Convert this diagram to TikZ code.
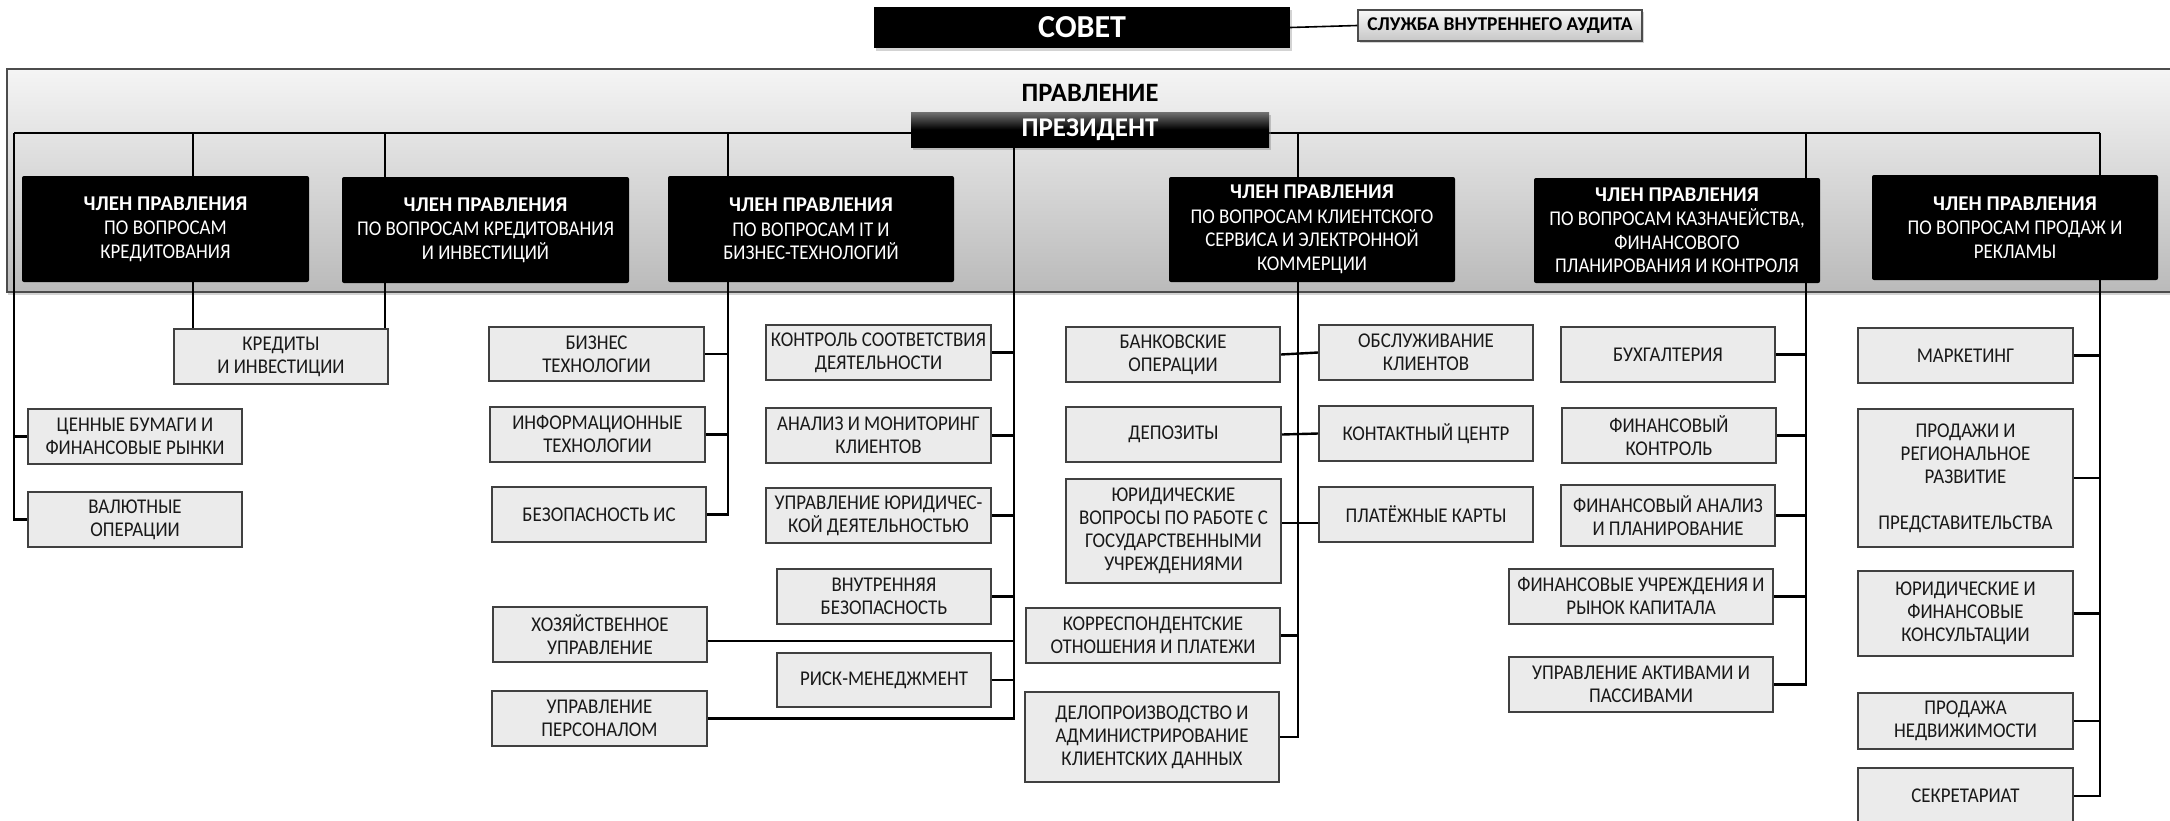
\documentclass[tikz,border=0pt]{standalone}
\usepackage{fontspec}
\setmainfont{Carlito}
\newfontfamily\condf[FakeStretch=0.9]{Carlito}
\usetikzlibrary{shadows,calc}
\tikzset{
  lbox/.style={draw=black!75, line width=2pt, fill=black!8, inner sep=0pt, align=center,
    font=\condf\fontsize{21}{23}\selectfont, text=black!90},
  mbox/.style={fill=black, rounded corners=2pt, inner sep=0pt, align=center, text=white,
    font=\condf\fontsize{21}{23.5}\selectfont},
  conn/.style={line width=2.4pt, black},
  rect/.style n args={4}{minimum width={#3pt-#1pt}, minimum height={#4pt-#2pt}, inner sep=0pt},
}
\newcommand\ub[6]{\node[lbox, rect={#2}{#3}{#4}{#5}] (#1) at ({(#2+#4)/2},{(#3+#5)/2}) {#6};}
\newcommand\mb[6]{\node[mbox, rect={#2}{#3}{#4}{#5}] (#1) at ({(#2+#4)/2},{(#3+#5)/2}) {{\fontspec{Carlito}\bfseries ЧЛЕН ПРАВЛЕНИЯ}\\[1pt]#6};}
\begin{document}
\begin{tikzpicture}[x=1pt,y=-1pt]
\useasboundingbox (0,0) rectangle (2170,820);
% panel
\node[rect={7}{69}{2200}{292}, draw=black!70, line width=1.5pt,
  top color=black!4, bottom color=black!27,
  drop shadow={shadow xshift=1pt, shadow yshift=-3pt, opacity=0.35}] (panel) at (1103.5,180.5) {};
\node[font=\bfseries\fontsize{26.5}{26.5}\selectfont] (pravl) at (1090,93) {ПРАВЛЕНИЕ};
% top
\node[rect={874}{7}{1290}{48}, fill=black, text=white,
  font=\bfseries\fontsize{32}{32}\selectfont,
  drop shadow={shadow xshift=2pt, shadow yshift=-3pt, opacity=0.35}] (sovet) at (1082,27.5) {СОВЕТ};
\node[rect={1358}{10}{1642}{41}, draw=black!70, line width=1.5pt,
  top color=black!3, bottom color=black!22, font=\bfseries\fontsize{19.5}{19.5}\selectfont,
  drop shadow={shadow xshift=2pt, shadow yshift=-2pt, opacity=0.35}] (audit) at (1500,25.5) {СЛУЖБА ВНУТРЕННЕГО АУДИТА};
\draw[line width=1.6pt] (sovet.east) -- (audit.west);
% trunk
\coordinate (tL) at (14,133);
\coordinate (tR) at (2100,133);
\coordinate (d1) at (193,133);
\coordinate (d2) at (385,133);
\coordinate (d3) at (728,133);
\coordinate (d0) at (1014,133);
\coordinate (d4) at (1298,133);
\coordinate (d5) at (1806,133);
\draw[conn] (tL) -- (tR);
% president
\node[rect={911}{112}{1269}{147}, top color=black!55, bottom color=black, middle color=black,
  text=white, font=\bfseries\fontsize{27}{27}\selectfont,
  drop shadow={shadow xshift=2pt, shadow yshift=-3pt, opacity=0.4}] (pres) at (1090,129.5) {ПРЕЗИДЕНТ};
% members
\mb{m1}{22}{176}{309}{282}{ПО ВОПРОСАМ\\КРЕДИТОВАНИЯ}
\mb{m2}{342}{177}{629}{283}{ПО ВОПРОСАМ КРЕДИТОВАНИЯ\\И ИНВЕСТИЦИЙ}
\mb{m3}{668}{176}{954}{282}{ПО ВОПРОСАМ IT И\\БИЗНЕС-ТЕХНОЛОГИЙ}
\mb{m4}{1169}{177}{1455}{282}{ПО ВОПРОСАМ КЛИЕНТСКОГО\\СЕРВИСА И ЭЛЕКТРОННОЙ\\КОММЕРЦИИ}
\mb{m5}{1534}{178}{1820}{283}{ПО ВОПРОСАМ КАЗНАЧЕЙСТВА,\\ФИНАНСОВОГО\\ПЛАНИРОВАНИЯ И КОНТРОЛЯ}
\mb{m6}{1872}{175}{2158}{280}{ПО ВОПРОСАМ ПРОДАЖ И\\РЕКЛАМЫ}
% lower boxes: credit
\ub{kred}{174}{329}{388}{384}{КРЕДИТЫ\\И ИНВЕСТИЦИИ}
\ub{cenn}{28}{409}{242}{464}{ЦЕННЫЕ БУМАГИ И\\ФИНАНСОВЫЕ РЫНКИ}
\ub{valut}{28}{492}{242}{547}{ВАЛЮТНЫЕ\\ОПЕРАЦИИ}
% IT
\ub{biz}{489}{327}{704}{381}{БИЗНЕС\\ТЕХНОЛОГИИ}
\ub{inf}{490}{407}{705}{462}{ИНФОРМАЦИОННЫЕ\\ТЕХНОЛОГИИ}
\ub{bezis}{492}{487}{706}{542}{БЕЗОПАСНОСТЬ ИС}
% president
\ub{kontr}{766}{325}{991}{380}{КОНТРОЛЬ СООТВЕТСТВИЯ\\ДЕЯТЕЛЬНОСТИ}
\ub{anal}{766}{408}{991}{463}{АНАЛИЗ И МОНИТОРИНГ\\КЛИЕНТОВ}
\ub{yur}{766}{488}{991}{543}{УПРАВЛЕНИЕ ЮРИДИЧЕС-\\КОЙ ДЕЯТЕЛЬНОСТЬЮ}
\ub{vnutr}{777}{569}{991}{624}{ВНУТРЕННЯЯ\\БЕЗОПАСНОСТЬ}
\ub{risk}{777}{653}{991}{707}{РИСК-МЕНЕДЖМЕНТ}
\ub{hoz}{493}{607}{707}{662}{ХОЗЯЙСТВЕННОЕ\\УПРАВЛЕНИЕ}
\ub{upers}{492}{691}{707}{746}{УПРАВЛЕНИЕ\\ПЕРСОНАЛОМ}
% client
\ub{bank}{1066}{327}{1280}{382}{БАНКОВСКИЕ\\ОПЕРАЦИИ}
\ub{dep}{1066}{407}{1281}{462}{ДЕПОЗИТЫ}
\ub{yurv}{1066}{479}{1281}{583}{ЮРИДИЧЕСКИЕ\\ВОПРОСЫ ПО РАБОТЕ С\\ГОСУДАРСТВЕННЫМИ\\УЧРЕЖДЕНИЯМИ}
\ub{korr}{1026}{608}{1280}{663}{КОРРЕСПОНДЕНТСКИЕ\\ОТНОШЕНИЯ И ПЛАТЕЖИ}
\ub{delo}{1025}{692}{1279}{782}{ДЕЛОПРОИЗВОДСТВО И\\АДМИНИСТРИРОВАНИЕ\\КЛИЕНТСКИХ ДАННЫХ}
\ub{obsl}{1319}{325}{1533}{380}{ОБСЛУЖИВАНИЕ\\КЛИЕНТОВ}
\ub{kont}{1319}{406}{1533}{461}{КОНТАКТНЫЙ ЦЕНТР}
\ub{plat}{1319}{487}{1533}{542}{ПЛАТЁЖНЫЕ КАРТЫ}
% treasury
\ub{buh}{1561}{327}{1775}{382}{БУХГАЛТЕРИЯ}
\ub{fk}{1562}{408}{1776}{463}{ФИНАНСОВЫЙ\\КОНТРОЛЬ}
\ub{fa}{1561}{485}{1775}{546}{ФИНАНСОВЫЙ АНАЛИЗ\\И ПЛАНИРОВАНИЕ}
\ub{fu}{1509}{569}{1773}{624}{ФИНАНСОВЫЕ УЧРЕЖДЕНИЯ И\\РЫНОК КАПИТАЛА}
\ub{uakt}{1509}{657}{1773}{712}{УПРАВЛЕНИЕ АКТИВАМИ И\\ПАССИВАМИ}
% sales
\ub{mark}{1858}{328}{2073}{383}{МАРКЕТИНГ}
\ub{prod}{1858}{409}{2073}{547}{ПРОДАЖИ И\\РЕГИОНАЛЬНОЕ\\РАЗВИТИЕ\\[23pt]ПРЕДСТАВИТЕЛЬСТВА}
\ub{yurk}{1858}{571}{2073}{656}{ЮРИДИЧЕСКИЕ И\\ФИНАНСОВЫЕ\\КОНСУЛЬТАЦИИ}
\ub{nedv}{1858}{693}{2073}{749}{ПРОДАЖА\\НЕДВИЖИМОСТИ}
\ub{sekr}{1858}{768}{2073}{824}{СЕКРЕТАРИАТ}
% connectors
\draw[conn] (tL) -- (tL |- valut.west) -- (valut.west);
\draw[conn] (cenn.west -| tL) -- (cenn.west);
\draw[conn] (d1) -- (d1 |- m1.north);
\draw[conn] (d1 |- m1.south) -- (d1 |- kred.north);
\draw[conn] (d2) -- (d2 |- m2.north);
\draw[conn] (d2 |- m2.south) -- (d2 |- kred.north);
\draw[conn] (d3) -- (d3 |- m3.north);
\draw[conn] (d3 |- m3.south) -- (d3 |- bezis.east) -- (bezis.east);
\draw[conn] (biz.east) -- (biz.east -| d3);
\draw[conn] (inf.east) -- (inf.east -| d3);
\draw[conn] (pres.south -| d0) -- (d0 |- upers.east) -- (upers.east);
\foreach \n in {kontr,anal,yur,vnutr,risk} \draw[conn] (\n.east) -- (\n.east -| d0);
\coordinate (hy) at (0,641);
\draw[conn] (hoz.east |- hy) -- (d0 |- hy);
\draw[conn] (d4) -- (d4 |- m4.north);
\draw[conn] (d4 |- m4.south) -- (d4 |- delo.east) -- (delo.east);
\draw[conn] (bank.east) -- (obsl.west);
\draw[conn] (dep.east) -- (kont.west);
\coordinate (yc) at ($(yurv.east)!0.5!(plat.west)$);
\draw[conn] (yurv.east |- yc) -- (plat.west |- yc);
\draw[conn] (korr.east) -- (korr.east -| d4);
\draw[conn] (d5) -- (d5 |- m5.north);
\draw[conn] (d5 |- m5.south) -- (d5 |- uakt.east) -- (uakt.east);
\foreach \n in {buh,fk,fa,fu} \draw[conn] (\n.east) -- (\n.east -| d5);
\draw[conn] (tR) -- (tR |- m6.north);
\draw[conn] (tR |- m6.south) -- (tR |- sekr.east) -- (sekr.east);
\foreach \n in {mark,prod,yurk,nedv} \draw[conn] (\n.east) -- (\n.east -| tR);
\end{tikzpicture}
\end{document}
